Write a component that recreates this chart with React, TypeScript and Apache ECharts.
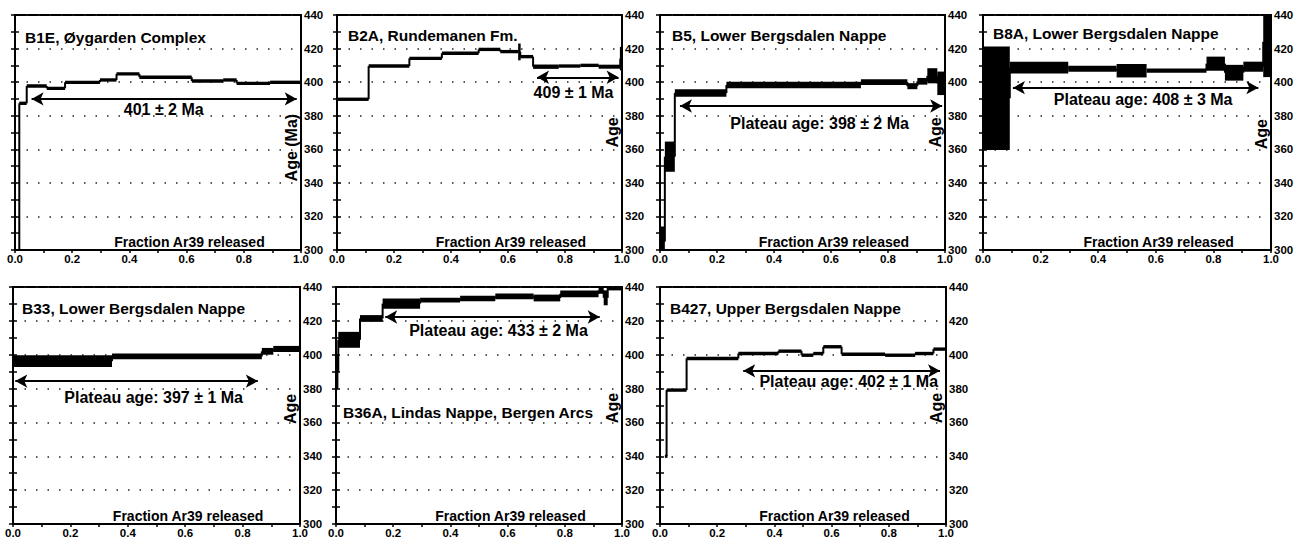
import React, { useEffect, useRef } from "react";
import * as echarts from "echarts";

const FONT = '"Liberation Sans", Arial, Helvetica, sans-serif';

// ---- data: steps [fractionStart, fractionEnd, age (Ma), error (Ma)] ----
const b1eSteps = [
  [0, 0.015, 250, 1],
  [0.015, 0.041, 387.4, 1],
  [0.041, 0.111, 397.7, 1],
  [0.111, 0.175, 396.3, 1],
  [0.175, 0.297, 399.9, 1],
  [0.297, 0.355, 401.3, 1],
  [0.355, 0.435, 404.9, 1],
  [0.435, 0.618, 402.9, 1],
  [0.618, 0.728, 400.7, 1],
  [0.728, 0.775, 401.3, 1],
  [0.775, 0.892, 399.3, 1],
  [0.892, 1.0, 399.9, 1],
];
const b2aSteps = [
  [0, 0.111, 389.8, 1],
  [0.111, 0.254, 409.6, 1],
  [0.254, 0.368, 414.2, 1],
  [0.368, 0.497, 417.2, 1],
  [0.497, 0.573, 419.5, 1],
  [0.573, 0.637, 418.2, 1],
  [0.637, 0.643, 418, 5],
  [0.643, 0.688, 415.2, 1],
  [0.688, 0.778, 409.2, 1.3],
  [0.778, 0.854, 409.6, 1],
  [0.854, 0.918, 410, 1],
  [0.918, 0.994, 409.2, 1.2],
  [0.994, 1.0, 414, 7],
];
const b5Steps = [
  [0, 0.017, 305, 9],
  [0.017, 0.052, 355.6, 9],
  [0.052, 0.233, 393.5, 2.2],
  [0.233, 0.705, 398.3, 2],
  [0.705, 0.868, 400, 1.7],
  [0.868, 0.903, 397.6, 1.8],
  [0.903, 0.938, 400.5, 2],
  [0.938, 0.973, 403.8, 4.5],
  [0.973, 1.0, 399.3, 7],
];
const b8aSteps = [
  [0, 0.093, 390.4, 30.8],
  [0.093, 0.296, 408.7, 3.5],
  [0.296, 0.464, 408, 1.8],
  [0.464, 0.568, 406.8, 4],
  [0.568, 0.776, 406.9, 1.3],
  [0.776, 0.84, 411, 4.2],
  [0.84, 0.904, 405.6, 4.7],
  [0.904, 0.973, 409.2, 3],
  [0.973, 1.0, 424, 21],
];
const b33Steps = [
  [0, 0.345, 396.2, 3.5],
  [0.345, 0.867, 399, 1.7],
  [0.867, 0.907, 402, 2],
  [0.907, 1.0, 403.4, 1.8],
];
const b36aSteps = [
  [0, 0.008, 390, 10],
  [0.008, 0.084, 408.8, 4.7],
  [0.084, 0.163, 421.4, 2],
  [0.163, 0.294, 430.2, 3],
  [0.294, 0.434, 432.2, 1.4],
  [0.434, 0.557, 433.2, 1.6],
  [0.557, 0.691, 434.4, 1.7],
  [0.691, 0.784, 433.5, 2],
  [0.784, 0.918, 436, 2],
  [0.918, 0.936, 438, 2],
  [0.936, 0.95, 433.6, 4.4],
  [0.95, 1.0, 440, 2],
];
const b427Steps = [
  [0.02, 0.023, 340, 0.5],
  [0.023, 0.093, 379.1, 1],
  [0.093, 0.274, 397.8, 1],
  [0.274, 0.414, 400.7, 1],
  [0.414, 0.495, 402.1, 1],
  [0.495, 0.536, 399.7, 1],
  [0.536, 0.571, 400.7, 1],
  [0.571, 0.635, 404.7, 1],
  [0.635, 0.787, 400.3, 1],
  [0.787, 0.892, 399.7, 1],
  [0.892, 0.956, 400.7, 1],
  [0.956, 1.0, 403.3, 1],
];

const titles = [
  "B1E, Øygarden Complex",
  "B2A, Rundemanen Fm.",
  "B5, Lower Bergsdalen Nappe",
  "B8A, Lower Bergsdalen Nappe",
  "B33, Lower Bergsdalen Nappe",
  "B36A, Lindas Nappe, Bergen Arcs",
  "B427, Upper Bergsdalen Nappe",
];
const plateauLabels = [
  "401 ± 2 Ma",
  "409 ± 1 Ma",
  "Plateau age: 398 ± 2 Ma",
  "Plateau age: 408 ± 3 Ma",
  "Plateau age: 397 ± 1 Ma",
  "Plateau age: 433 ± 2 Ma",
  "Plateau age: 402 ± 1 Ma",
];
// [fractionStart, fractionEnd, age]
const plateauArrows = [
  [0.058, 0.985, 390],
  [0.702, 0.988, 402.9],
  [0.07, 0.99, 385.8],
  [0.104, 0.956, 396.7],
  [0.008, 0.853, 384.4],
  [0.172, 0.922, 422.3],
  [0.291, 0.979, 390.5],
];
// [fraction, age] of label centre
const plateauTextPos = [
  [0.52, 383.8],
  [0.83, 393.7],
  [0.56, 375.5],
  [0.556, 389.4],
  [0.49, 374.6],
  [0.568, 414.5],
  [0.66, 384],
];
const ageNames = ["Age (Ma)", "Age", "Age", "Age", "Age", "Age", "Age"];
const xAxisName = "Fraction Ar39 released";
const yMin = 300;
const yMax = 440;

const allSteps = [b1eSteps, b2aSteps, b5Steps, b8aSteps, b33Steps, b36aSteps, b427Steps];

// ---- layout ----
const GRIDS = [
  { left: 15, top: 15, width: 286, height: 235 },
  { left: 337, top: 15, width: 285, height: 235 },
  { left: 660, top: 15, width: 285, height: 235 },
  { left: 983, top: 15, width: 288, height: 235 },
  { left: 13, top: 287, width: 287, height: 237 },
  { left: 336, top: 287, width: 286, height: 237 },
  { left: 660, top: 287, width: 286, height: 237 },
];
// title offset from grid's top-left: [dx, dy of text centre]
const TITLE_OFFSETS = [
  [10, 22],
  [11, 20],
  [12, 20],
  [10, 18],
  [9, 21],
  [7, 125],
  [10, 21],
];
const AGE_NAME_CENTER = [361, 370, 370, 369, 368, 368.5, 368.5];

function makeRenderer(steps: number[][]) {
  return function (params: any, api: any) {
    const i = params.dataIndex;
    const x0 = api.value(0);
    const x1 = api.value(1);
    const age = api.value(2);
    const err = api.value(3);
    const cs = params.coordSys;
    const a = api.coord([x0, age + err]);
    const b = api.coord([x1, age - err]);
    let yTop = a[1];
    let yBot = b[1];
    if (yBot - yTop < 3.2) {
      const m = (yTop + yBot) / 2;
      yTop = m - 1.6;
      yBot = m + 1.6;
    }
    let xl = a[0];
    let w = b[0] - a[0];
    if (w < 2.5) {
      xl = (a[0] + b[0]) / 2 - 1.25;
      w = 2.5;
    }
    const children: any[] = [];
    const r = echarts.graphic.clipRectByRect(
      { x: xl, y: yTop, width: w, height: yBot - yTop },
      { x: cs.x, y: cs.y, width: cs.width, height: cs.height }
    );
    if (r && r.height > 0 && r.width > 0) {
      children.push({ type: "rect", shape: r, style: { fill: "#000" } });
    }
    if (i > 0) {
      const prev = steps[i - 1];
      const p = api.coord([x0, prev[2]]);
      const q = api.coord([x0, age]);
      const lo = cs.y;
      const hi = cs.y + cs.height;
      const y1 = Math.min(Math.max(p[1], lo), hi);
      const y2 = Math.min(Math.max(q[1], lo), hi);
      if (Math.abs(y2 - y1) > 0.5) {
        children.push({
          type: "line",
          shape: { x1: p[0], y1, x2: p[0], y2 },
          style: { stroke: "#000", lineWidth: 2 },
        });
      }
    }
    return { type: "group", children };
  };
}

function buildOption() {
  const grid: any[] = [];
  const xAxis: any[] = [];
  const yAxis: any[] = [];
  const series: any[] = [];
  const graphic: any[] = [];

  GRIDS.forEach((g, i) => {
    grid.push({
      left: g.left,
      top: g.top,
      width: g.width,
      height: g.height,
      show: true,
      borderColor: "#000",
      borderWidth: 2,
      backgroundColor: "transparent",
    });
    xAxis.push({
      gridIndex: i,
      type: "value",
      min: 0,
      max: 1,
      interval: 0.2,
      axisLine: { show: true, onZero: false, lineStyle: { color: "#000", width: 2 } },
      axisTick: { show: true, length: 3, lineStyle: { color: "#000", width: 1.5 } },
      minorTick: { show: true, splitNumber: 2, length: 3, lineStyle: { color: "#000", width: 1.5 } },
      axisLabel: {
        formatter: (v: number) => v.toFixed(1),
        fontSize: 11.5,
        fontWeight: "bold",
        color: "#000",
        fontFamily: FONT,
        margin: 3,
        showMinLabel: true,
        showMaxLabel: true,
      },
      splitLine: { show: false },
    });
    yAxis.push({
      gridIndex: i,
      type: "value",
      position: "right",
      min: yMin,
      max: yMax,
      interval: 20,
      axisLine: { show: true, lineStyle: { color: "#000", width: 2 } },
      axisTick: { show: true, length: 4, lineStyle: { color: "#000", width: 1.5 } },
      minorTick: { show: true, splitNumber: 2, length: 4, lineStyle: { color: "#000", width: 1.5 } },
      axisLabel: {
        fontSize: 11.5,
        fontWeight: "bold",
        color: "#000",
        fontFamily: FONT,
        margin: 3,
        showMinLabel: true,
        showMaxLabel: true,
      },
      splitLine: { show: true, lineStyle: { color: "#222", width: 1.5, type: [1.5, 10] } },
    });
    yAxis.push({
      gridIndex: i,
      type: "value",
      position: "left",
      min: yMin,
      max: yMax,
      interval: 10,
      axisLine: { show: true, lineStyle: { color: "#000", width: 2 } },
      axisTick: { show: true, length: 4, lineStyle: { color: "#000", width: 1.5 } },
      axisLabel: { show: false },
      splitLine: { show: false },
    });

    const steps = allSteps[i];
    series.push({
      type: "custom",
      xAxisIndex: i,
      yAxisIndex: 2 * i,
      renderItem: makeRenderer(steps),
      encode: { x: [0, 1], y: [2] },
      data: steps,
      silent: true,
    });

    const arr = plateauArrows[i];
    const tp = plateauTextPos[i];
    series.push({
      type: "line",
      xAxisIndex: i,
      yAxisIndex: 2 * i,
      data: [
        [arr[0], arr[2]],
        [arr[1], arr[2]],
      ],
      showSymbol: false,
      lineStyle: { opacity: 0 },
      silent: true,
      markLine: {
        silent: true,
        symbol: ["arrow", "arrow"],
        symbolSize: [10, 12],
        lineStyle: { color: "#000", width: 2, type: "solid" },
        label: { show: false },
        data: [[{ coord: [arr[0], arr[2]] }, { coord: [arr[1], arr[2]] }]],
      },
      markPoint: {
        silent: true,
        symbol: "circle",
        symbolSize: 1,
        itemStyle: { color: "transparent" },
        label: {
          show: true,
          position: "inside",
          formatter: plateauLabels[i],
          color: "#000",
          fontSize: 16,
          fontWeight: "bold",
          fontFamily: FONT,
        },
        data: [{ coord: [tp[0], tp[1]], value: 0 }],
      },
    });

    const off = TITLE_OFFSETS[i];
    graphic.push({
      type: "text",
      x: g.left + off[0],
      y: g.top + off[1],
      silent: true,
      style: {
        text: titles[i],
        font: `bold 15.5px ${FONT}`,
        fill: "#000",
        align: "left",
        verticalAlign: "middle",
      },
    });
    graphic.push({
      type: "text",
      x: g.left + g.width * 0.61,
      y: g.top + g.height - 8,
      silent: true,
      style: {
        text: xAxisName,
        font: `bold 14px ${FONT}`,
        fill: "#000",
        align: "center",
        verticalAlign: "middle",
      },
    });
    graphic.push({
      type: "text",
      x: g.left + g.width - 10,
      y: g.top + (g.height * (yMax - AGE_NAME_CENTER[i])) / (yMax - yMin),
      rotation: Math.PI / 2,
      silent: true,
      style: {
        text: ageNames[i],
        font: `bold 16px ${FONT}`,
        fill: "#000",
        align: "center",
        verticalAlign: "middle",
      },
    });
  });

  return {
    animation: false,
    backgroundColor: "#fff",
    grid,
    xAxis,
    yAxis,
    series,
    graphic,
  };
}

export default function App() {
  const ref = useRef<HTMLDivElement>(null);
  useEffect(() => {
    if (!ref.current) return;
    const chart = echarts.init(ref.current, undefined, { renderer: "svg" });
    chart.setOption(buildOption() as any);
    return () => chart.dispose();
  }, []);
  return (
    <div
      ref={ref}
      style={{ position: "absolute", left: 0, top: 0, width: 1300, height: 543, background: "#fff" }}
    />
  );
}
